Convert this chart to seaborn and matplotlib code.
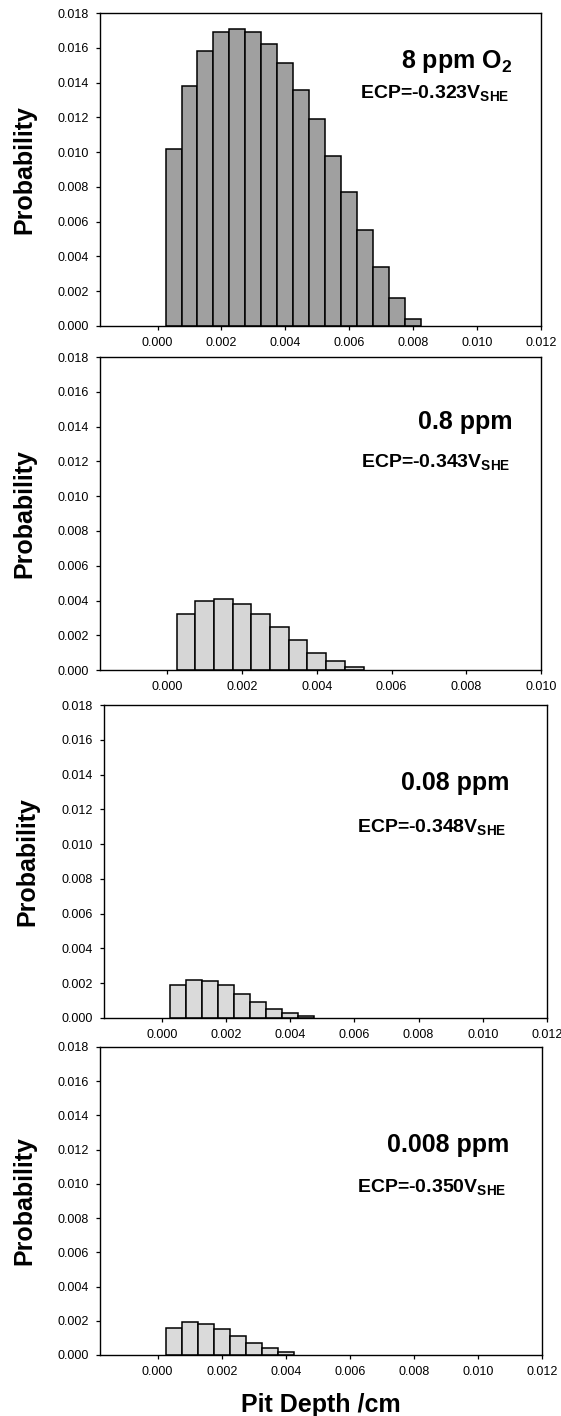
import numpy as np
import pandas as pd
import matplotlib
matplotlib.use("Agg")
import matplotlib.pyplot as plt
import seaborn as sns

# bin centres of pit depth (cm), bin width 0.0005
depth = [0.0005, 0.0010, 0.0015, 0.0020, 0.0025, 0.0030, 0.0035, 0.0040,
         0.0045, 0.0050, 0.0055, 0.0060, 0.0065, 0.0070, 0.0075, 0.0080]

# probabilities
prob_8ppm = [0.0102, 0.0138, 0.0158, 0.0169, 0.0171, 0.0169, 0.0162, 0.0151,
             0.0136, 0.0119, 0.0098, 0.0077, 0.0055, 0.0034, 0.0016, 0.0004]
prob_08ppm = [0.0032, 0.0040, 0.0041, 0.0038, 0.0032, 0.0025, 0.0017, 0.0010,
              0.0005, 0.0002]
prob_008ppm = [0.0019, 0.0022, 0.0021, 0.0019, 0.0014, 0.0009, 0.0005, 0.0003,
               0.0001]
prob_0008ppm = [0.0016, 0.0019, 0.0018, 0.0015, 0.0011, 0.0007, 0.0004, 0.0002]

titles = ["8 ppm O$_2$", "0.8 ppm", "0.08 ppm", "0.008 ppm"]
ecp = ["ECP=-0.323V$_{SHE}$", "ECP=-0.343V$_{SHE}$",
       "ECP=-0.348V$_{SHE}$", "ECP=-0.350V$_{SHE}$"]
xmax = [0.012, 0.010, 0.012, 0.012]
y_ticks = [0.000, 0.002, 0.004, 0.006, 0.008, 0.010, 0.012, 0.014, 0.016, 0.018]

sns.set_style("ticks")
plt.rcParams["font.family"] = ["Liberation Sans", "DejaVu Sans"]
plt.rcParams["mathtext.fontset"] = "custom"
plt.rcParams["mathtext.rm"] = "Liberation Sans:bold"
plt.rcParams["mathtext.it"] = "Liberation Sans:bold"
plt.rcParams["mathtext.bf"] = "Liberation Sans:bold"
for key in ["text.color", "axes.labelcolor", "xtick.color", "ytick.color",
            "axes.edgecolor"]:
    plt.rcParams[key] = "black"

fig = plt.figure(figsize=(5.61, 14.16), dpi=100)

# [left, bottom, width, height] for each panel
boxes = [[0.1783, 0.7698, 0.7861, 0.2210],
         [0.1783, 0.5268, 0.7861, 0.2210],
         [0.1854, 0.2811, 0.7897, 0.2210],
         [0.1783, 0.0431, 0.7880, 0.2175]]
# text placement (x, title baseline, ecp baseline) in axes fraction
text_pos = [(0.934, 0.824, 0.728),
            (0.936, 0.770, 0.650),
            (0.915, 0.728, 0.595),
            (0.925, 0.660, 0.530)]
fills = ["#a0a0a0", "#d6d6d6", "#dadada", "#dadada"]

series = [prob_8ppm, prob_08ppm, prob_008ppm, prob_0008ppm]

for i, vals in enumerate(series):
    ax = fig.add_axes(boxes[i])
    df = pd.DataFrame({"depth": depth[:len(vals)], "prob": vals})
    d = df["depth"].to_numpy()
    edges = np.append(d - 0.00025, d[-1] + 0.00025).tolist()
    sns.histplot(data=df, x="depth", weights="prob", bins=edges, ax=ax,
                 color=fills[i], edgecolor="black", linewidth=1.1, alpha=1)

    ax.set_xlim(-0.0018, xmax[i])
    ax.set_ylim(0, 0.018)
    ax.set_xticks(np.arange(0, xmax[i] + 1e-9, 0.002))
    ax.set_yticks(y_ticks)
    ax.xaxis.set_major_formatter(matplotlib.ticker.FormatStrFormatter("%.3f"))
    ax.yaxis.set_major_formatter(matplotlib.ticker.FormatStrFormatter("%.3f"))
    ax.tick_params(direction="out", length=3, width=0.9, pad=5, labelsize=9,
                   colors="black")
    for s in ax.spines.values():
        s.set_linewidth(1.0)
        s.set_color("black")

    ax.set_ylabel("Probability", fontsize=18, fontweight="bold")
    ax.yaxis.set_label_coords(-0.145, 0.5)
    ax.set_xlabel("")

    tx, ty1, ty2 = text_pos[i]
    ax.text(tx, ty1, titles[i], transform=ax.transAxes, ha="right",
            va="baseline", fontsize=18, fontweight="bold")
    ax.text(tx - 0.006, ty2, ecp[i], transform=ax.transAxes, ha="right",
            va="baseline", fontsize=14, fontweight="bold")

ax.set_xlabel("Pit Depth /cm", fontsize=18, fontweight="bold")
ax.xaxis.set_label_coords(0.5, -0.125)

fig.savefig("out.png", dpi=100)
